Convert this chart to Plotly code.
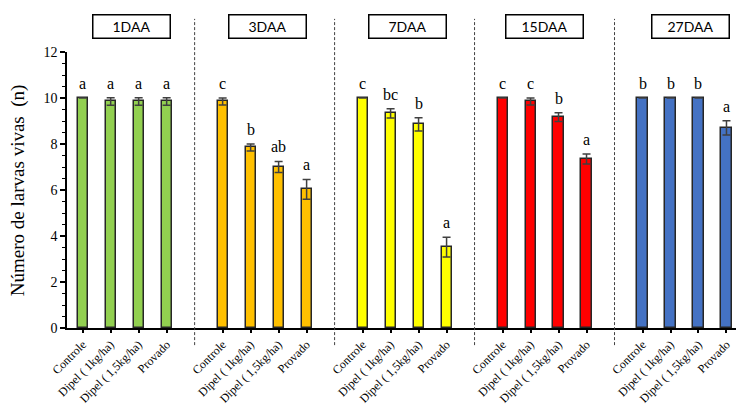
import plotly.graph_objects as go

# Treatments and evaluation days
treatments = ["Controle", "Dipel ( 1kg/ha)", "Dipel ( 1,5kg/ha)", "Provado"]
days = ["1DAA", "3DAA", "7DAA", "15DAA", "27DAA"]
colors = ["#92D050", "#FFC000", "#FFFF00", "#FF0000", "#4472C4"]

# Mean number of live larvae per treatment, one list per day
mean_1daa = [10.0, 9.85, 9.85, 9.85]
mean_3daa = [9.85, 7.85, 7.0, 6.03]
mean_7daa = [10.0, 9.33, 8.85, 3.52]
mean_15daa = [10.0, 9.85, 9.17, 7.35]
mean_27daa = [10.0, 10.0, 10.0, 8.7]

# Standard errors
se_1daa = [0.0, 0.16, 0.16, 0.16]
se_3daa = [0.15, 0.15, 0.24, 0.43]
se_7daa = [0.0, 0.2, 0.29, 0.43]
se_15daa = [0.0, 0.15, 0.19, 0.22]
se_27daa = [0.0, 0.0, 0.0, 0.31]

# Letters from the mean comparison test
letters_1daa = ["a", "a", "a", "a"]
letters_3daa = ["c", "b", "ab", "a"]
letters_7daa = ["c", "bc", "b", "a"]
letters_15daa = ["c", "c", "b", "a"]
letters_27daa = ["b", "b", "b", "a"]

means = [mean_1daa, mean_3daa, mean_7daa, mean_15daa, mean_27daa]
errors = [se_1daa, se_3daa, se_7daa, se_15daa, se_27daa]
letters = [letters_1daa, letters_3daa, letters_7daa, letters_15daa, letters_27daa]

SERIF = "Liberation Serif"
SANS = "Lato"

group_size = len(treatments) + 1  # one empty slot between groups
fig = go.Figure()
tickvals, ticktext = [], []
annotations = []

for g, day in enumerate(days):
    xs = [g * group_size + i for i in range(len(treatments))]
    tickvals += xs
    ticktext += treatments
    fig.add_trace(go.Bar(
        x=xs, y=means[g], width=0.36,
        marker=dict(color=colors[g], line=dict(color="#262626", width=1.5)),
        error_y=dict(type="data", array=errors[g], visible=True,
                     color="#404040", thickness=1.5, width=4),
        showlegend=False, name=day,
    ))
    for x, m, e, lt in zip(xs, means[g], errors[g], letters[g]):
        annotations.append(dict(
            x=x, y=m + e + 0.64, text=lt, showarrow=False,
            xref="x", yref="y", yanchor="middle",
            font=dict(family=SERIF, size=16, color="black"),
        ))

# Panel title boxes (centre of each box on the x axis)
box_centers = [1.76, 6.6, 11.6, 16.5, 21.7]
for cx, day in zip(box_centers, days):
    annotations.append(dict(
        x=cx, y=1.094, xref="x", yref="paper", text=day, showarrow=False,
        xanchor="center", yanchor="middle", width=74, height=20,
        bordercolor="black", borderwidth=1.5, bgcolor="white",
        font=dict(family=SANS, size=14, color="black"),
    ))

# Y axis title
annotations.append(dict(
    x=-0.073, y=0.5, xref="paper", yref="paper", text="Número de larvas vivas  (n)",
    showarrow=False, textangle=-90, xanchor="center", yanchor="middle",
    font=dict(family=SERIF, size=19, color="black"),
))

# Dashed separators between days
shapes = []
for g in range(1, len(days)):
    sx = g * group_size - 1
    shapes.append(dict(
        type="line", xref="x", yref="paper", x0=sx, x1=sx, y0=-0.062, y1=1.12,
        line=dict(color="#404040", width=1, dash="3px,2px"),
    ))

fig.update_layout(
    width=736, height=407,
    margin=dict(l=67, r=0, t=52, b=79),
    paper_bgcolor="white", plot_bgcolor="white",
    bargap=0, annotations=annotations, shapes=shapes,
    xaxis=dict(
        range=[-0.56, 23.34], tickvals=tickvals, ticktext=ticktext,
        tickangle=-45, showgrid=False, zeroline=False, automargin=False,
        showline=True, linecolor="black", linewidth=1.5,
        ticks="outside", ticklen=3, tickcolor="black", tickwidth=1.5,
        tickfont=dict(family=SERIF, size=12, color="black"),
    ),
    yaxis=dict(
        range=[0, 12], dtick=2, showgrid=False, zeroline=False, automargin=False,
        showline=True, linecolor="black", linewidth=1.5,
        ticks="outside", ticklen=5, tickcolor="black", tickwidth=1.5,
        minor=dict(dtick=0.5, ticks="outside", ticklen=3, tickcolor="black", tickwidth=1),
        tickfont=dict(family=SERIF, size=14, color="black"),
    ),
)

fig.write_html("out.html")
